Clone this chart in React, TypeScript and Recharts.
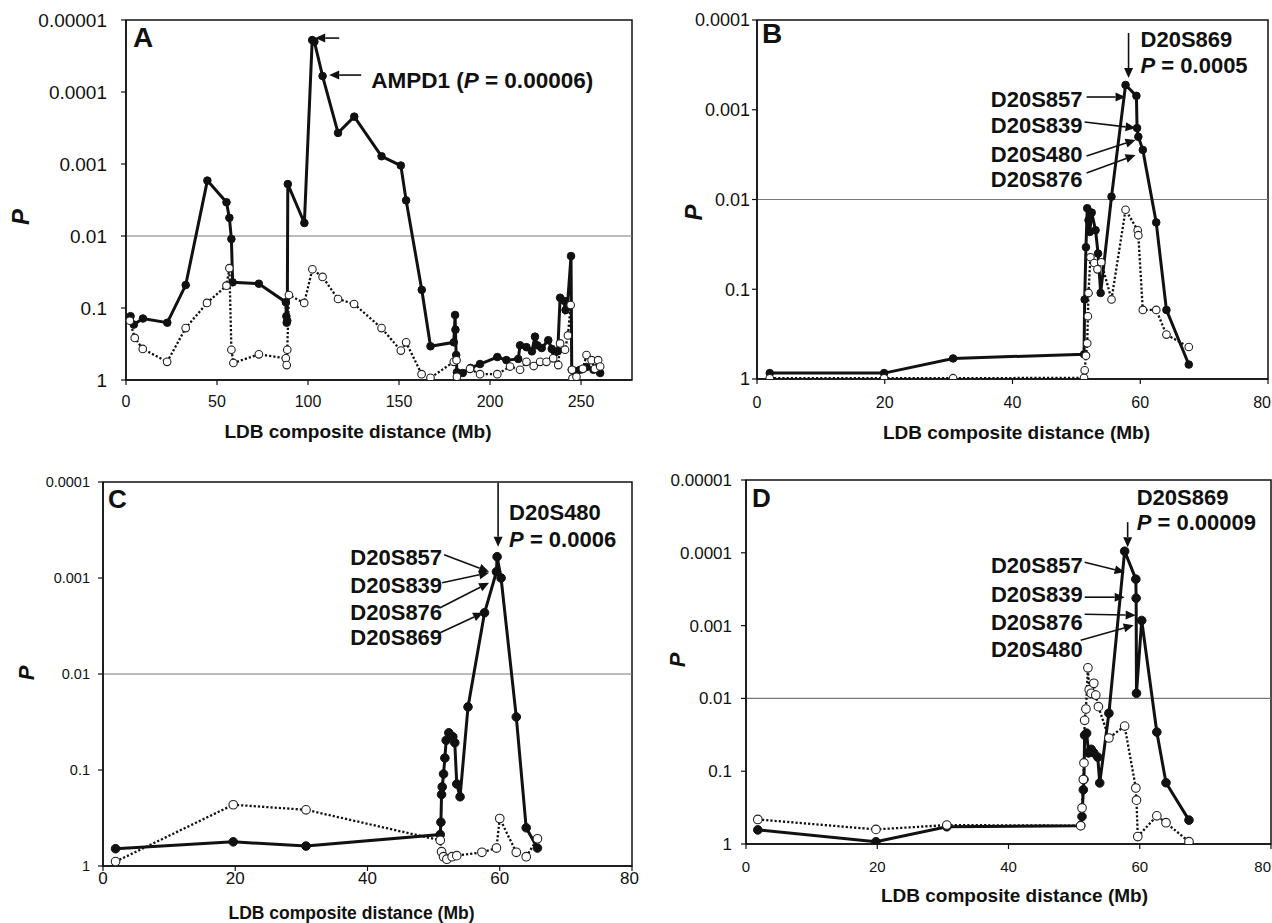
import React from 'react';
import { LineChart, Line, XAxis, YAxis, ReferenceLine, ReferenceArea, ReferenceDot } from 'recharts';

const FONT = '"Liberation Sans", Arial, Helvetica, sans-serif';
const INK = '#111';

type Pt = [number, number];

// ---------- tick values / labels ----------
const A_X_TICKS = [0, 50, 100, 150, 200, 250];
const A_X_MAX = 278;
const CHR20_X_TICKS = [0, 20, 40, 60, 80];
const CHR20_X_MAX = 80;
const Y_TICKS_5 = [0.00001, 0.0001, 0.001, 0.01, 0.1, 1];
const Y_LABELS_5 = ['0.00001', '0.0001', '0.001', '0.01', '0.1', '1'];
const Y_TICKS_4 = [0.0001, 0.001, 0.01, 0.1, 1];
const Y_LABELS_4 = ['0.0001', '0.001', '0.01', '0.1', '1'];
const X_TITLE = 'LDB composite distance (Mb)';

// ---------- Panel A (genome-wide) ----------
const A_SOLID: Pt[] = [
  [2.5, 0.13], [4.3, 0.17], [9.3, 0.14], [22.7, 0.16], [32.8, 0.048], [44.7, 0.0017],
  [55.2, 0.0034], [56.8, 0.0056], [57.9, 0.011], [58.6, 0.044], [73, 0.046], [87.8, 0.083],
  [88.1, 0.13], [88.3, 0.16], [88.6, 0.15], [88.9, 0.0019], [98, 0.0066], [102.3, 0.000019],
  [103.5, 0.00002], [108, 0.00006], [116.5, 0.00037], [125.4, 0.00022], [140.4, 0.00078],
  [151, 0.00105], [153.9, 0.0032], [162.5, 0.056], [167.3, 0.34], [180.1, 0.3], [180.8, 0.125],
  [181, 0.2], [181.4, 0.45], [181.8, 0.78], [185, 0.8], [189.3, 0.68], [194.5, 0.6], [204, 0.48],
  [209, 0.53], [215.5, 0.51], [216.5, 0.33], [220, 0.35], [223, 0.4], [224.7, 0.25], [226, 0.33],
  [228.4, 0.36], [232, 0.28], [233.9, 0.37], [235.7, 0.41], [237.2, 0.4], [238.5, 0.072],
  [241, 0.08], [241.5, 0.107], [242.5, 0.095], [244.5, 0.019], [244.9, 0.72], [247, 0.75],
  [249.5, 0.72], [253, 0.66], [256.8, 0.72], [259.4, 0.66], [260.5, 0.8],
];
const A_DOTTED: Pt[] = [
  [2.1, 0.15], [4.8, 0.26], [9.2, 0.37], [22.6, 0.56], [32.8, 0.19], [44.5, 0.085], [55.2, 0.049],
  [56.8, 0.028], [57.9, 0.38], [59, 0.58], [73, 0.44], [87.8, 0.5], [88.3, 0.62], [88.6, 0.38],
  [89.5, 0.066], [97.9, 0.085], [102.4, 0.029], [108, 0.037], [116.5, 0.075], [125.3, 0.088],
  [140.4, 0.19], [151, 0.39], [153.9, 0.3], [162.4, 0.83], [167.3, 0.93], [180.1, 0.56],
  [181.6, 0.53], [181.8, 0.9], [189, 0.7], [194.5, 0.83], [204, 0.83], [211, 0.65], [216.5, 0.72],
  [220, 0.56], [224, 0.64], [227.5, 0.56], [231, 0.56], [234.7, 0.5], [237.5, 0.62], [238.5, 0.31],
  [241.2, 0.38], [242.8, 0.24], [244.3, 0.091], [245, 0.72], [245.3, 0.95], [247.5, 0.9],
  [251, 0.7], [253, 0.45], [255.8, 0.53], [257.6, 0.7], [259.4, 0.53], [260.5, 0.65],
];

// ---------- Panel B ----------
const B_SOLID: Pt[] = [
  [2.0, 0.86], [19.9, 0.86], [30.7, 0.59], [51.2, 0.53], [51.3, 0.13], [51.5, 0.034],
  [51.7, 0.0125], [51.9, 0.017], [52.1, 0.023], [52.4, 0.014], [53.0, 0.022], [53.4, 0.04],
  [53.8, 0.11], [55.5, 0.0093], [57.7, 0.00053], [59.4, 0.0007], [59.5, 0.0016], [59.7, 0.002],
  [60.4, 0.0028], [62.5, 0.018], [64.1, 0.17], [67.6, 0.69],
];
const B_DOTTED: Pt[] = [
  [2.0, 0.98], [19.9, 0.98], [30.7, 0.98], [51.2, 0.97], [51.3, 0.8], [51.5, 0.55], [51.7, 0.4],
  [51.8, 0.2], [51.9, 0.11], [52.2, 0.044], [52.8, 0.051], [53.3, 0.06], [53.9, 0.05],
  [55.5, 0.13], [57.7, 0.013], [59.6, 0.022], [59.7, 0.025], [60.4, 0.17], [62.5, 0.17],
  [64.1, 0.32], [67.6, 0.44],
];

// ---------- Panel C ----------
const C_SOLID: Pt[] = [
  [1.9, 0.66], [19.7, 0.56], [30.7, 0.62], [51.0, 0.47], [51.1, 0.35], [51.2, 0.18], [51.3, 0.15],
  [51.5, 0.11], [51.7, 0.075], [51.9, 0.049], [52.3, 0.041], [52.9, 0.045], [53.2, 0.052],
  [53.5, 0.14], [54.0, 0.19], [55.2, 0.022], [57.7, 0.0023], [59.5, 0.00086], [59.6, 0.0006],
  [60.2, 0.001], [62.5, 0.028], [64.0, 0.4], [65.7, 0.65],
];
const C_DOTTED: Pt[] = [
  [1.9, 0.9], [19.7, 0.23], [30.7, 0.26], [51.0, 0.54], [51.2, 0.71], [51.5, 0.8], [52.0, 0.85],
  [52.8, 0.8], [53.5, 0.78], [57.3, 0.72], [59.5, 0.65], [60.0, 0.32], [62.5, 0.72], [64.0, 0.8],
  [65.7, 0.52],
];

// ---------- Panel D ----------
const D_SOLID: Pt[] = [
  [1.8, 0.64], [19.8, 0.93], [30.6, 0.58], [51.0, 0.56], [51.2, 0.42], [51.4, 0.18], [51.5, 0.13],
  [51.6, 0.032], [51.9, 0.03], [52.2, 0.056], [52.6, 0.05], [53.0, 0.056], [53.6, 0.064],
  [53.9, 0.145], [55.3, 0.016], [57.7, 0.000095], [59.4, 0.00023], [59.45, 0.00042], [59.5, 0.0085],
  [60.3, 0.00085], [62.6, 0.029], [64.0, 0.144], [67.5, 0.47],
];
const D_DOTTED: Pt[] = [
  [1.8, 0.46], [19.8, 0.63], [30.6, 0.55], [51.0, 0.56], [51.2, 0.32], [51.4, 0.13], [51.5, 0.077],
  [51.6, 0.02], [51.8, 0.014], [52.1, 0.0038], [52.3, 0.0076], [52.6, 0.0085], [53.0, 0.0062],
  [53.3, 0.009], [53.7, 0.013], [55.3, 0.035], [57.7, 0.024], [59.4, 0.17], [59.5, 0.25],
  [59.7, 0.79], [62.6, 0.41], [64.0, 0.51], [67.5, 0.93],
];

// ---------- annotation types ----------
type Part = { t: string; i?: boolean };
type Arrow = { from: [number, number]; to: [number, number] };
type Txt = { at: [number, number]; parts: Part[]; anchor: 'start' | 'end' };
type Annot = { anchor: Pt; arrows: Arrow[]; texts: Txt[]; fontSize: number };

const A_ANNOT: Annot = {
  anchor: A_SOLID[17],
  fontSize: 22.5,
  arrows: [
    { from: [27, -2], to: [3, -2] },
    { from: [49, 35], to: [17, 35] },
  ],
  texts: [
    { at: [59, 48], anchor: 'start', parts: [{ t: 'AMPD1 (' }, { t: 'P', i: true }, { t: ' = 0.00006)' }] },
  ],
};

const B_ANNOT: Annot = {
  anchor: B_SOLID[14],
  fontSize: 22,
  arrows: [
    { from: [3, -52], to: [3, -7] },
    { from: [-39, 12], to: [0, 12] },
    { from: [-41, 37], to: [10, 43] },
    { from: [-39, 71], to: [10, 55] },
    { from: [-39, 88], to: [10, 70] },
  ],
  texts: [
    { at: [15, -38], anchor: 'start', parts: [{ t: 'D20S869' }] },
    { at: [15, -12], anchor: 'start', parts: [{ t: 'P', i: true }, { t: ' = 0.0005' }] },
    { at: [-43, 22], anchor: 'end', parts: [{ t: 'D20S857' }] },
    { at: [-43, 48], anchor: 'end', parts: [{ t: 'D20S839' }] },
    { at: [-43, 77], anchor: 'end', parts: [{ t: 'D20S480' }] },
    { at: [-43, 102], anchor: 'end', parts: [{ t: 'D20S876' }] },
  ],
};

const C_ANNOT: Annot = {
  anchor: C_SOLID[18],
  fontSize: 22,
  arrows: [
    { from: [1, -74], to: [1, -10] },
    { from: [-53, -2], to: [-8, 15] },
    { from: [-55, 26], to: [-8, 16] },
    { from: [-57, 51], to: [-8, 26] },
    { from: [-57, 76], to: [-14, 56] },
  ],
  texts: [
    { at: [12, -37], anchor: 'start', parts: [{ t: 'D20S480' }] },
    { at: [12, -10], anchor: 'start', parts: [{ t: 'P', i: true }, { t: ' = 0.0006' }] },
    { at: [-55, 8], anchor: 'end', parts: [{ t: 'D20S857' }] },
    { at: [-55, 36], anchor: 'end', parts: [{ t: 'D20S839' }] },
    { at: [-55, 63], anchor: 'end', parts: [{ t: 'D20S876' }] },
    { at: [-55, 88], anchor: 'end', parts: [{ t: 'D20S869' }] },
  ],
};

const D_ANNOT: Annot = {
  anchor: D_SOLID[15],
  fontSize: 22,
  arrows: [
    { from: [3, -29], to: [3, -4] },
    { from: [-40, 11], to: [0, 21] },
    { from: [-40, 46], to: [0, 46] },
    { from: [-40, 63], to: [11, 64] },
    { from: [-44, 89], to: [9, 74] },
  ],
  texts: [
    { at: [12, -46], anchor: 'start', parts: [{ t: 'D20S869' }] },
    { at: [12, -21], anchor: 'start', parts: [{ t: 'P', i: true }, { t: ' = 0.00009' }] },
    { at: [-42, 22], anchor: 'end', parts: [{ t: 'D20S857' }] },
    { at: [-42, 51], anchor: 'end', parts: [{ t: 'D20S839' }] },
    { at: [-42, 79], anchor: 'end', parts: [{ t: 'D20S876' }] },
    { at: [-42, 106], anchor: 'end', parts: [{ t: 'D20S480' }] },
  ],
};

// ---------- panel config ----------
interface PanelCfg {
  letter: string;
  left: number; top: number; width: number; height: number;
  margin: { top: number; right: number; bottom: number; left: number };
  yAxisWidth: number; xAxisHeight: number;
  xMax: number; xTicks: number[];
  yTicks: number[]; yLabels: string[];
  solid: Pt[]; dotted: Pt[];
  yTickFont: number; xTickFont: number; titleFont: number; letterFont: number; pFont: number;
  yTickMargin: number; xTickMargin: number;
  titleDx: number; titleDy: number;
  pDx: number; pDy: number;
  letterOff: [number, number];
  dotR: number;
  annot: Annot;
}

const PANELS: PanelCfg[] = [
  {
    letter: 'A', left: 0, top: 0, width: 640, height: 455,
    margin: { top: 20, right: 8, bottom: 0, left: 0 }, yAxisWidth: 126, xAxisHeight: 75,
    xMax: A_X_MAX, xTicks: A_X_TICKS, yTicks: Y_TICKS_5, yLabels: Y_LABELS_5,
    solid: A_SOLID, dotted: A_DOTTED,
    yTickFont: 19, xTickFont: 16, titleFont: 19, letterFont: 28, pFont: 24,
    yTickMargin: 14, xTickMargin: 11, titleDx: -21, titleDy: 58, pDx: 20, pDy: 17,
    letterOff: [7, 27], dotR: 3.8, annot: A_ANNOT,
  },
  {
    letter: 'B', left: 640, top: 0, width: 632, height: 455,
    margin: { top: 20, right: 4, bottom: 0, left: 0 }, yAxisWidth: 117, xAxisHeight: 76,
    xMax: CHR20_X_MAX, xTicks: CHR20_X_TICKS, yTicks: Y_TICKS_4, yLabels: Y_LABELS_4,
    solid: B_SOLID, dotted: B_DOTTED,
    yTickFont: 18, xTickFont: 16, titleFont: 19, letterFont: 28, pFont: 24,
    yTickMargin: 2, xTickMargin: 13, titleDx: 4, titleDy: 60, pDx: 53, pDy: 13,
    letterOff: [5, 23], dotR: 3.8, annot: B_ANNOT,
  },
  {
    letter: 'C', left: 0, top: 440, width: 640, height: 483,
    margin: { top: 42, right: 8, bottom: 0, left: 0 }, yAxisWidth: 103, xAxisHeight: 57,
    xMax: CHR20_X_MAX, xTicks: CHR20_X_TICKS, yTicks: Y_TICKS_4, yLabels: Y_LABELS_4,
    solid: C_SOLID, dotted: C_DOTTED,
    yTickFont: 14.5, xTickFont: 17, titleFont: 17.5, letterFont: 26, pFont: 22,
    yTickMargin: 8, xTickMargin: 1, titleDx: -16, titleDy: 52.5, pDx: 26, pDy: -1,
    letterOff: [5, 26], dotR: 4.3, annot: C_ANNOT,
  },
  {
    letter: 'D', left: 640, top: 440, width: 632, height: 483,
    margin: { top: 40, right: 1, bottom: 0, left: 0 }, yAxisWidth: 106, xAxisHeight: 79,
    xMax: CHR20_X_MAX, xTicks: CHR20_X_TICKS, yTicks: Y_TICKS_5, yLabels: Y_LABELS_5,
    solid: D_SOLID, dotted: D_DOTTED,
    yTickFont: 17, xTickFont: 15, titleFont: 19, letterFont: 26, pFont: 22,
    yTickMargin: 9, xTickMargin: 12, titleDx: 6, titleDy: 58, pDx: 37, pDy: -2,
    letterOff: [6, 27], dotR: 4.3, annot: D_ANNOT,
  },
];

const toRows = (pts: Pt[]) => pts.map(([x, p]) => ({ x, p }));

function arrowEl(x1: number, y1: number, x2: number, y2: number, key: string) {
  const dx = x2 - x1;
  const dy = y2 - y1;
  const len = Math.hypot(dx, dy) || 1;
  const ux = dx / len;
  const uy = dy / len;
  const hl = 10;
  const hw = 4.5;
  const bx = x2 - ux * hl;
  const by = y2 - uy * hl;
  const px = -uy;
  const py = ux;
  return (
    <g key={key}>
      <line x1={x1} y1={y1} x2={bx} y2={by} stroke={INK} strokeWidth={1.6} />
      <polygon
        points={`${x2},${y2} ${bx + px * hw},${by + py * hw} ${bx - px * hw},${by - py * hw}`}
        fill={INK}
      />
    </g>
  );
}

function makeAnnotShape(a: Annot) {
  return (props: any) => {
    const cx = props.cx as number;
    const cy = props.cy as number;
    if (cx == null || cy == null || isNaN(cx) || isNaN(cy)) return <g />;
    return (
      <g>
        {a.arrows.map((ar, i) =>
          arrowEl(cx + ar.from[0], cy + ar.from[1], cx + ar.to[0], cy + ar.to[1], 'ar' + i)
        )}
        {a.texts.map((tx, i) => (
          <text
            key={'tx' + i}
            x={cx + tx.at[0]}
            y={cy + tx.at[1]}
            textAnchor={tx.anchor}
            fontFamily={FONT}
            fontWeight="bold"
            fontSize={a.fontSize}
            fill={INK}
            style={{ whiteSpace: 'pre' }}
          >
            {tx.parts.map((pt, j) => (
              <tspan key={j} fontStyle={pt.i ? 'italic' : 'normal'}>
                {pt.t}
              </tspan>
            ))}
          </text>
        ))}
      </g>
    );
  };
}

function makeLetterShape(cfg: PanelCfg) {
  return (props: any) => {
    const cx = props.cx as number;
    const cy = props.cy as number;
    if (cx == null || cy == null || isNaN(cx) || isNaN(cy)) return <g />;
    return (
      <text
        x={cx + cfg.letterOff[0]}
        y={cy + cfg.letterOff[1]}
        fontFamily={FONT}
        fontWeight="bold"
        fontSize={cfg.letterFont}
        fill={INK}
      >
        {cfg.letter}
      </text>
    );
  };
}

function makeXTick(cfg: PanelCfg) {
  return (props: any) => {
    const { x, y, payload } = props;
    const label = String(payload?.value ?? '');
    const halfW = label.length * cfg.xTickFont * 0.556 * 0.5;
    let tx = x as number;
    if (tx + halfW > cfg.width - 1) tx = cfg.width - 1 - halfW;
    return (
      <text
        x={tx}
        y={y}
        dy="0.71em"
        textAnchor="middle"
        fontFamily={FONT}
        fontSize={cfg.xTickFont}
        fill={INK}
      >
        {label}
      </text>
    );
  };
}

function Panel({ cfg }: { cfg: PanelCfg }) {
  const yMin = cfg.yTicks[0];
  const fmtY = (v: number) => {
    const idx = cfg.yTicks.findIndex((t) => Math.abs(t - v) < t * 1e-6);
    return idx >= 0 ? cfg.yLabels[idx] : '';
  };
  const xTitle = (props: any) => {
    const vb = props.viewBox || {};
    return (
      <text
        x={(vb.x ?? 0) + (vb.width ?? 0) / 2 + cfg.titleDx}
        y={(vb.y ?? 0) + cfg.titleDy}
        textAnchor="middle"
        fontFamily={FONT}
        fontWeight="bold"
        fontSize={cfg.titleFont}
        fill={INK}
      >
        {X_TITLE}
      </text>
    );
  };
  const yTitle = (props: any) => {
    const vb = props.viewBox || {};
    const x = (vb.x ?? 0) + cfg.pDx;
    const y = (vb.y ?? 0) + (vb.height ?? 0) / 2 + cfg.pDy;
    return (
      <text
        x={x}
        y={y}
        transform={`rotate(-90, ${x}, ${y})`}
        textAnchor="middle"
        dominantBaseline="central"
        fontFamily={FONT}
        fontWeight="bold"
        fontStyle="italic"
        fontSize={cfg.pFont}
        fill={INK}
      >
        P
      </text>
    );
  };

  return (
    <div style={{ position: 'absolute', left: cfg.left, top: cfg.top }}>
      <LineChart width={cfg.width} height={cfg.height} margin={cfg.margin}>
        <XAxis
          type="number"
          dataKey="x"
          domain={[0, cfg.xMax]}
          ticks={cfg.xTicks}
          interval={0}
          allowDataOverflow
          height={cfg.xAxisHeight}
          tickSize={5}
          tickMargin={cfg.xTickMargin}
          tick={makeXTick(cfg)}
          axisLine={{ stroke: INK, strokeWidth: 1.5 }}
          tickLine={{ stroke: INK, strokeWidth: 1.2 }}
          label={{ content: xTitle }}
        />
        <YAxis
          type="number"
          scale="log"
          reversed
          domain={[yMin, 1]}
          ticks={cfg.yTicks}
          interval={0}
          allowDataOverflow
          width={cfg.yAxisWidth}
          tickSize={5}
          tickMargin={cfg.yTickMargin}
          tickFormatter={fmtY}
          tick={{ fontSize: cfg.yTickFont, fill: INK, fontFamily: FONT }}
          axisLine={{ stroke: INK, strokeWidth: 1.5 }}
          tickLine={{ stroke: INK, strokeWidth: 1.2 }}
          label={{ content: yTitle }}
        />
        <ReferenceArea
          x1={0}
          x2={cfg.xMax}
          y1={yMin}
          y2={1}
          fill="none"
          fillOpacity={0}
          stroke={INK}
          strokeWidth={1.5}
          ifOverflow="visible"
        />
        <ReferenceLine y={0.01} stroke="#7a7a7a" strokeWidth={1.2} ifOverflow="visible" />
        <Line
          data={toRows(cfg.solid)}
          dataKey="p"
          type="linear"
          stroke={INK}
          strokeWidth={3}
          dot={{ r: cfg.dotR, fill: INK, stroke: INK, strokeWidth: 1 }}
          activeDot={false}
          isAnimationActive={false}
        />
        <Line
          data={toRows(cfg.dotted)}
          dataKey="p"
          type="linear"
          stroke={INK}
          strokeWidth={2.3}
          strokeDasharray="2.2 2"
          dot={{ r: cfg.dotR, fill: '#fff', stroke: '#222', strokeWidth: 1.1, strokeDasharray: 'none' }}
          activeDot={false}
          isAnimationActive={false}
        />
        <ReferenceDot
          x={0}
          y={yMin}
          r={0}
          ifOverflow="visible"
          shape={makeLetterShape(cfg)}
        />
        <ReferenceDot
          x={cfg.annot.anchor[0]}
          y={cfg.annot.anchor[1]}
          r={0}
          ifOverflow="visible"
          shape={makeAnnotShape(cfg.annot)}
        />
      </LineChart>
    </div>
  );
}

export default function App() {
  return (
    <div
      style={{
        position: 'absolute',
        left: 0,
        top: 0,
        width: 1272,
        height: 923,
        background: '#fff',
        overflow: 'hidden',
      }}
    >
      {PANELS.map((cfg) => (
        <Panel key={cfg.letter} cfg={cfg} />
      ))}
    </div>
  );
}
